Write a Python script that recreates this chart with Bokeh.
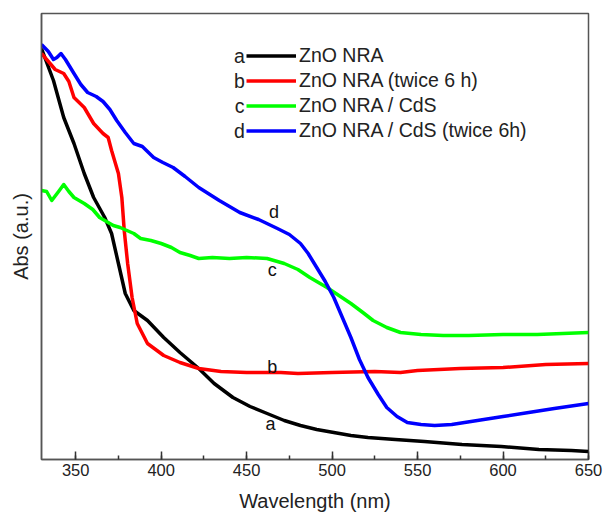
from bokeh.plotting import figure
from bokeh.models import (Range1d, SingleIntervalTicker, FixedTicker, Legend,
                          LegendItem, Label)
from bokeh.core.properties import value
from bokeh.embed import file_html
from bokeh.resources import INLINE

# ---------------- data (arbitrary absorbance units) ----------------
a_nm = [330, 337, 343, 349, 355, 360.5, 367, 371, 375, 379, 384, 392, 401.5, 411,
        422, 431, 442, 452, 462, 472, 481.5, 491, 501, 511, 521, 537, 554, 576,
        599, 621, 640, 650]
a_abs = [411, 379, 342, 316, 286, 262, 242, 226, 196, 166, 149, 139, 122, 107,
         91, 76, 62, 53, 46, 39, 34, 30, 27, 24, 22, 20, 18, 15, 13, 10, 9, 8]

b_nm = [330, 335, 338, 343, 346, 349, 355, 360.5, 366, 369, 371, 375, 377, 378.4,
        380.4, 383, 386, 392, 401.5, 411, 422, 435, 450, 470, 480, 500, 525, 540,
        550, 575, 600, 625, 650]
b_abs = [406, 396, 390, 386, 378, 362, 352, 336, 326, 322, 309, 286, 262, 229,
         196, 162, 136, 116, 104, 97, 91, 88, 87, 87, 86, 87, 88, 87, 89, 91, 92,
         95, 96]

c_nm = [330, 333, 336, 340, 343, 346, 349, 355, 360, 364, 368, 372, 376, 380,
        384, 388, 394, 400, 406, 411, 417, 422, 430, 440, 450, 462, 472, 480, 487,
        497, 504, 511, 518, 524, 532, 540, 552, 565, 580, 600, 620, 635, 650]
c_abs = [269, 268, 259, 268, 275, 268, 262, 256, 250, 242, 238, 234, 232, 229,
         226, 221, 219, 216, 212, 207, 204, 201, 202, 201, 202, 201, 196, 190, 182,
         172, 164, 156, 147, 139, 132, 127, 125, 124, 124, 125, 125, 126, 127]

d_nm = [330, 334, 337, 339, 341.4, 344, 349, 353, 357, 362, 366, 370, 374, 379,
        384, 389, 395.6, 401, 407, 414, 422, 434, 446, 457, 468, 475, 481.5, 486,
        491, 496, 501, 506, 511, 516, 521, 527, 532, 538, 544, 552, 560, 570, 585,
        600, 615, 630, 650]
d_abs = [415, 408, 400, 402, 406, 400, 386, 375, 367, 363, 358, 350, 339, 327,
         316, 313, 302, 297, 292, 283, 272, 259, 247, 240, 231, 225, 216, 206,
         192, 178, 162, 142, 122, 100, 82, 65, 52, 43, 37, 35, 34, 35, 39, 43, 47,
         51, 56]

series_names = ["ZnO NRA", "ZnO NRA (twice 6 h)", "ZnO NRA / CdS",
                "ZnO NRA / CdS (twice 6h)"]
series_letters = ["a", "b", "c", "d"]
series_colors = ["#000000", "#ff0000", "#00ff00", "#0000ff"]
x_ticks_interval = 50

# curve tag positions (annotation placement)
tag_x = [464, 465, 465, 466]
tag_y = [36, 93, 190, 248]

FONT = "Liberation Sans"

p = figure(width=603, height=516, output_backend="svg", toolbar_location=None,
           x_range=Range1d(330, 650), y_range=Range1d(0, 446),
           min_border_left=41, min_border_right=15, min_border_top=13,
           min_border_bottom=57)
p.background_fill_color = "white"
p.border_fill_color = "white"
p.outline_line_color = "#555555"
p.outline_line_width = 1.5
p.xgrid.visible = False
p.ygrid.visible = False

renderers = []
for xs, ys, col in zip([a_nm, b_nm, c_nm, d_nm], [a_abs, b_abs, c_abs, d_abs],
                       series_colors):
    r = p.line(xs, ys, line_color=col, line_width=3.5, line_join="round")
    renderers.append(r)

p.text(x=tag_x, y=tag_y, text=series_letters, text_align="center",
       text_baseline="middle", text_font=value(FONT), text_font_size="18px",
       text_color="#111111")

# x axis
xa = p.xaxis[0]
xa.ticker = SingleIntervalTicker(interval=x_ticks_interval, num_minor_ticks=2)
xa.axis_line_color = "#555555"
xa.axis_line_width = 1.5
xa.major_tick_in = 8
xa.major_tick_out = 0
xa.minor_tick_in = 4
xa.minor_tick_out = 0
xa.major_tick_line_color = "#333333"
xa.minor_tick_line_color = "#333333"
xa.major_tick_line_width = 1.5
xa.minor_tick_line_width = 1.5
xa.major_label_text_font = FONT
xa.major_label_text_font_size = "16.5px"
xa.major_label_text_color = "#222222"
xa.major_label_standoff = 4
xa.axis_label = "Wavelength (nm)"
xa.axis_label_text_font = FONT
xa.axis_label_text_font_size = "20px"
xa.axis_label_text_font_style = "normal"
xa.axis_label_text_color = "#222222"
xa.axis_label_standoff = 11

# y axis
ya = p.yaxis[0]
ya.ticker = FixedTicker(ticks=[])
ya.axis_line_color = "#555555"
ya.axis_line_width = 1.5
ya.major_tick_out = 0
ya.major_tick_in = 0
ya.minor_tick_out = 0
ya.minor_tick_in = 0
ya.major_label_text_font_size = "0px"
ya.axis_label = "Abs (a.u.)"
ya.axis_label_text_font = FONT
ya.axis_label_text_font_size = "20px"
ya.axis_label_text_font_style = "normal"
ya.axis_label_text_color = "#222222"
ya.axis_label_standoff = 10

# legend
items = [LegendItem(label=n, renderers=[r]) for n, r in zip(series_names, renderers)]
legend = Legend(items=items, location=(205, 316), orientation="vertical",
                background_fill_alpha=0, border_line_color=None,
                label_text_font=FONT, label_text_font_size="19.5px",
                label_text_color="#222222", glyph_width=50, glyph_height=25,
                label_height=25, spacing=0, padding=0, margin=0,
                label_standoff=3)
p.add_layout(legend, "center")

for i, letter in enumerate(series_letters):
    p.add_layout(Label(x=198, y=316 + 100 - 12.5 - 25 * i, x_units="screen",
                       y_units="screen", text=letter, text_align="center",
                       text_baseline="middle", text_font=FONT,
                       text_font_size="19.5px", text_color="#222222"))

open("out.html", "w").write(file_html(p, INLINE))
